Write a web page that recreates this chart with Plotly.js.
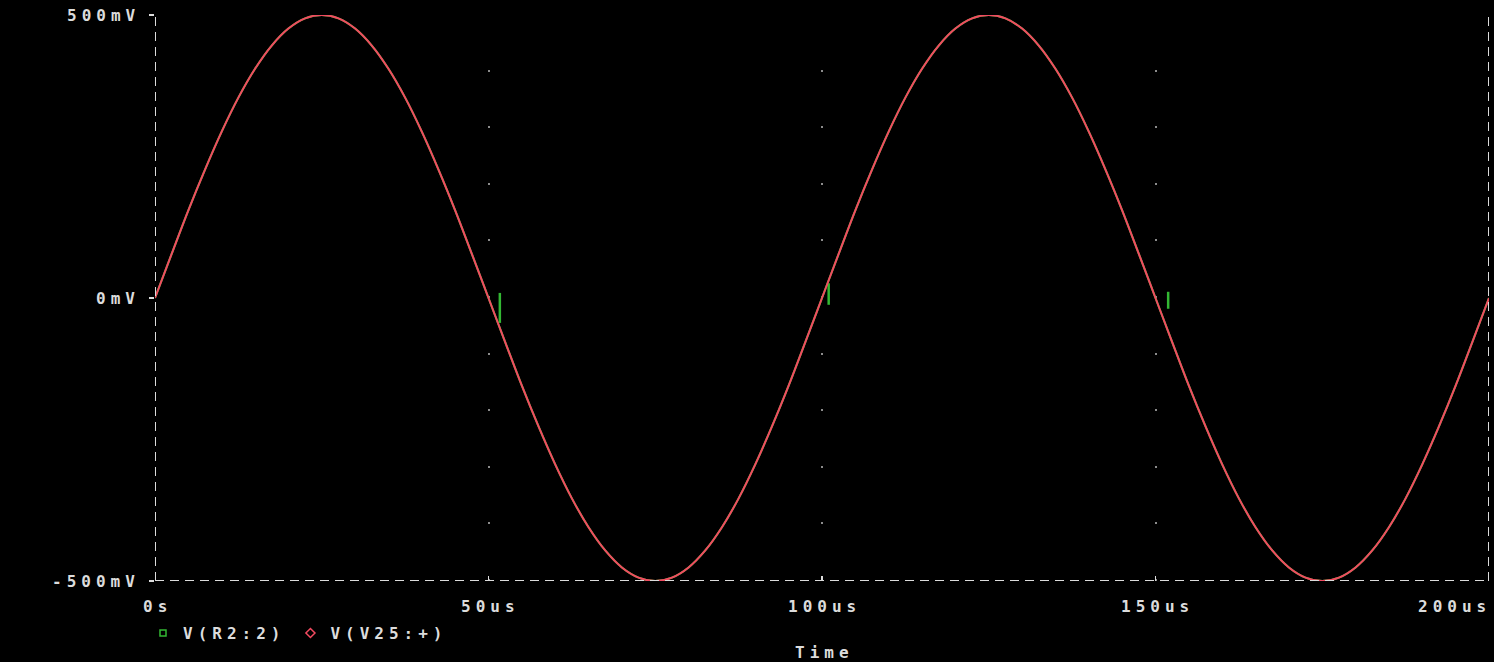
<!DOCTYPE html>
<html>
<head>
<meta charset="utf-8">
<script src="https://cdn.plot.ly/plotly-3.0.1.min.js"></script>
<style>
  html, body { margin: 0; padding: 0; background: #000; }
  #chart { width: 1494px; height: 662px; }
  svg text { letter-spacing: 5px; }
</style>
</head>
<body>
<div id="chart"></div>
<script>
// ---- data ----
const timeUs = [0,2.5,5,7.5,10,12.5,15,17.5,20,22.5,25,27.5,30,32.5,35,37.5,40,42.5,45,47.5,
  50,52.5,55,57.5,60,62.5,65,67.5,70,72.5,75,77.5,80,82.5,85,87.5,90,92.5,95,97.5,
  100,102.5,105,107.5,110,112.5,115,117.5,120,122.5,125,127.5,130,132.5,135,137.5,140,142.5,145,147.5,
  150,152.5,155,157.5,160,162.5,165,167.5,170,172.5,175,177.5,180,182.5,185,187.5,190,192.5,195,197.5,200];
const vV25 = [0,78,155,227,294,354,405,446,476,494,500,494,476,446,405,354,294,227,155,78,
  0,-78,-155,-227,-294,-354,-405,-446,-476,-494,-500,-494,-476,-446,-405,-354,-294,-227,-155,-78,
  0,78,155,227,294,354,405,446,476,494,500,494,476,446,405,354,294,227,155,78,
  0,-78,-155,-227,-294,-354,-405,-446,-476,-494,-500,-494,-476,-446,-405,-354,-294,-227,-155,-78,0];
const vR2 = vV25.slice();
// green glitch segments (null separates segments)
const spikeT = [51.7,51.7,null,101.0,101.0,null,151.9,151.9];
const spikeV = [-44,9,null,26,-12,null,11,-19];

const xRange = [0,200];
const yRange = [-500,500];
const xTickVals = [0,50,100,150,200];
const xTickText = ['0s','50us','100us','150us','200us'];
const yTickVals = [-500,0,500];
const yTickText = ['-500mV','0mV','500mV'];
const seriesNames = ['V(R2:2)','V(V25:+)'];
const axisTitle = 'Time';

// ---- styles ----
const RED = '#f24a60';
const GREEN = '#33b833';
const TXT = '#dcdcdc';
const font = {family: 'DejaVu Sans Mono', size: 16, color: TXT, weight: 'bold'};

const traces = [
  {x: timeUs, y: vR2, mode: 'lines', line: {color: GREEN, width: 2, shape: 'spline'}, showlegend: false, hoverinfo: 'skip'},
  {x: spikeT, y: spikeV, mode: 'lines', line: {color: GREEN, width: 2.5}, connectgaps: false, showlegend: false, hoverinfo: 'skip'},
  {x: timeUs, y: vV25, mode: 'lines', line: {color: RED, width: 2, shape: 'spline'}, showlegend: false, hoverinfo: 'skip'},
  {x: [null], y: [null], mode: 'markers', name: seriesNames[0], marker: {symbol: 'square-open', size: 6, color: GREEN, line: {width: 1.5}}},
  {x: [null], y: [null], mode: 'markers', name: seriesNames[1], marker: {symbol: 'diamond-open', size: 7, color: RED, line: {width: 1.5}}}
];

const annotations = [];
xTickVals.forEach((v, i) => {
  const last = i === xTickVals.length - 1;
  annotations.push({x: v, xref: 'x', y: 0, yref: 'paper', yanchor: 'top', xanchor: last ? 'right' : 'center',
    xshift: last ? 4 : 2, yshift: -14, text: xTickText[i], showarrow: false, font: font});
});
yTickVals.forEach((v, i) => {
  annotations.push({x: 0, xref: 'paper', y: v, yref: 'y', xanchor: 'right', yanchor: 'middle',
    xshift: -13, text: yTickText[i], showarrow: false, font: font});
});
annotations.push({x: 0.5, xref: 'paper', y: 0, yref: 'paper', yanchor: 'top', xanchor: 'center',
  xshift: 2, yshift: -60, text: axisTitle, showarrow: false, font: font});

const frameLine = {color: TXT, width: 2, dash: '9px,6px'};
const shapes = [
  {type: 'line', xref: 'x', yref: 'y', x0: xRange[0], x1: xRange[0], y0: yRange[0], y1: yRange[1], line: frameLine},
  {type: 'line', xref: 'x', yref: 'y', x0: xRange[1], x1: xRange[1], y0: yRange[0], y1: yRange[1], line: frameLine},
  {type: 'line', xref: 'x', yref: 'y', x0: xRange[0], x1: xRange[1], y0: yRange[0], y1: yRange[0], line: frameLine}
];

const layout = {
  width: 1494, height: 662,
  paper_bgcolor: '#000', plot_bgcolor: '#000',
  margin: {l: 155, r: 5, t: 15, b: 81},
  font: font,
  xaxis: {range: xRange, tickvals: xTickVals.slice(1, -1), showticklabels: false, ticks: 'inside', ticklen: 5,
    tickcolor: TXT, tickwidth: 1.5, showgrid: true, gridcolor: '#8c8c8c', gridwidth: 2,
    griddash: '0px,54.6px,2px,0px', zeroline: false, showline: false, fixedrange: true},
  yaxis: {range: yRange, tickvals: yTickVals, showticklabels: false, ticks: 'outside', ticklen: 5,
    tickcolor: TXT, tickwidth: 1.5, showgrid: false, zeroline: false, showline: false, fixedrange: true},
  showlegend: true,
  legend: {orientation: 'h', x: -0.009, xanchor: 'left', y: -0.062, yanchor: 'top',
    bgcolor: 'rgba(0,0,0,0)', font: font, itemclick: false, itemdoubleclick: false, traceorder: 'normal'},
  shapes: shapes,
  annotations: annotations
};

Plotly.newPlot('chart', traces, layout, {displayModeBar: false, staticPlot: true});
</script>
</body>
</html>
